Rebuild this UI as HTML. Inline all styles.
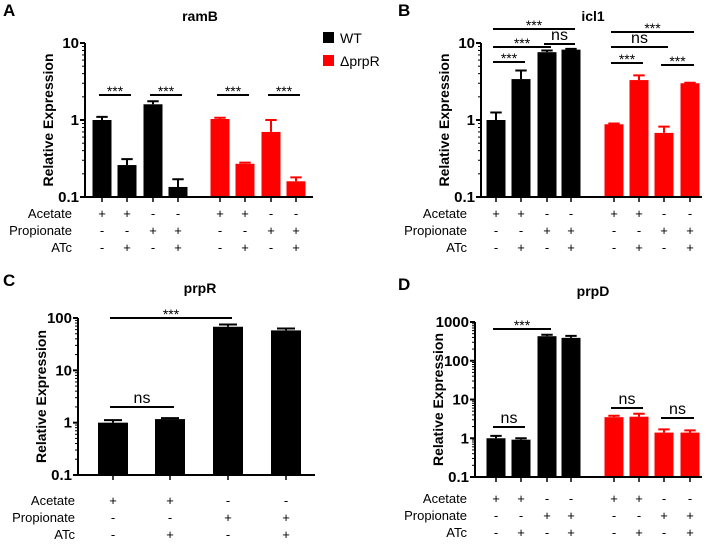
<!DOCTYPE html>
<html><head><meta charset="utf-8">
<style>
body{margin:0;background:#fff;width:711px;height:542px;overflow:hidden}
svg{font-family:"Liberation Sans",Arial,sans-serif}
</style></head>
<body>
<svg id="fig" width="711" height="542" viewBox="0 0 711 542"></svg>
<script>
// ---- data ----
const conditionsAcetate = ['+','+','-','-','+','+','-','-'];
const conditionsPropionate = ['-','-','+','+','-','-','+','+'];
const conditionsAtc = ['-','+','-','+','-','+','-','+'];
const ramBValues = [1.0,0.26,1.6,0.135,1.03,0.27,0.7,0.16];
const ramBErrors = [1.1,0.31,1.75,0.17,1.07,0.28,1.0,0.18];
const icl1Values = [1.0,3.4,7.6,8.2,0.88,3.3,0.68,3.0];
const icl1Errors = [1.25,4.4,8.0,8.4,0.9,3.8,0.82,3.05];
const prpRValues = [1.0,1.17,68,58];
const prpRErrors = [1.12,1.22,75,63];
const prpDValues = [1.0,0.92,430,390,3.5,3.6,1.4,1.4];
const prpDErrors = [1.15,1.0,470,440,3.8,4.3,1.7,1.6];
const ramBTicks = ['0.1','1','10'];
const icl1Ticks = ['0.1','1','10'];
const prpRTicks = ['0.1','1','10','100'];
const prpDTicks = ['0.1','1','10','100','1000'];
// significance: [from index, to index, label]
const ramBSig = [[0,1,'***'],[2,3,'***'],[4,5,'***'],[6,7,'***']];
const icl1Sig = [[0,3,'***'],[0,2,'***'],[2,3,'ns'],[0,1,'***'],[4,7,'***'],[4,6,'ns'],[4,5,'***'],[6,7,'***']];
const prpRSig = [[0,2,'***'],[0,1,'ns']];
const prpDSig = [[0,2,'***'],[0,1,'ns'],[4,5,'ns'],[6,7,'ns']];

const NS='http://www.w3.org/2000/svg';
const svg=document.getElementById('fig');
function mk(tag,attrs,parent,text){const e=document.createElementNS(NS,tag);for(const k in attrs)e.setAttribute(k,attrs[k]);if(text!==undefined)e.textContent=text;(parent||svg).appendChild(e);return e;}

function panel(cfg){
  const g=mk('g',{});
  
  
  const y0=cfg.yBottom, dec=(cfg.yBottom-cfg.yTop)/(cfg.ticks.length-1);
  const yScale=v=>y0-(Math.log10(v)+1)*dec;
  const xScale=i=>cfg.centers[i];
  let t=mk('text',{x:cfg.letterX,y:cfg.letterY,'font-size':17,'font-weight':'bold'},g,cfg.letter);
  
  
  t=mk('text',{x:cfg.titleX,y:cfg.titleY,'font-size':14,'font-weight':'bold','text-anchor':'middle'},g,cfg.title);
  
  
  t=mk('text',{x:0,y:0,'font-size':14,'font-weight':'bold','text-anchor':'middle',transform:`translate(${cfg.axisX-32},${(cfg.yTop+cfg.yBottom)/2}) rotate(-90)`},g,'Relative Expression');
  
  
  cfg.values.forEach((v,i)=>{
    const col=(cfg.red&&i>=4)?'#ff0000':'#000';
    const cx=xScale(i), w=cfg.barW;
    const yt=yScale(v);
    const b=mk('rect',{x:cx-w/2,y:yt,width:w,height:y0-yt,fill:col},g);
    
    
    const ye=yScale(cfg.errors[i]);
    const e=mk('path',{d:`M${cx},${yt} V${ye} M${cx-w*0.3},${ye} H${cx+w*0.3}`,stroke:col,'stroke-width':2,fill:'none'},g);
    
    
  });
  const ax=mk('path',{d:`M${cfg.axisX},${cfg.yTop} V${y0} H${cfg.axisEnd}`,stroke:'#000','stroke-width':2,fill:'none'},g);
  
  
  cfg.ticks.forEach((lab,k)=>{
    const y=y0-k*dec;
    mk('line',{x1:cfg.axisX-5,x2:cfg.axisX,y1:y,y2:y,stroke:'#000','stroke-width':2},g);
    const tl=mk('text',{x:cfg.axisX-6,y:y+5,'font-size':15,'font-weight':'bold','text-anchor':'end'},g,lab);
    
    
    if(k<cfg.ticks.length-1){for(let m=2;m<=9;m++){const ym=y-Math.log10(m)*dec;mk('line',{x1:cfg.axisX-3,x2:cfg.axisX,y1:ym,y2:ym,stroke:'#000','stroke-width':1},g);}}
  });
  cfg.values.forEach((v,i)=>{mk('line',{x1:xScale(i),x2:xScale(i),y1:y0,y2:y0+5,stroke:'#000','stroke-width':1.5},g);});
  const rows=[['Acetate',conditionsAcetate],['Propionate',conditionsPropionate],['ATc',conditionsAtc]];
  rows.forEach((r,ri)=>{
    const y=cfg.rowY+ri*cfg.rowGap;
    const rl=mk('text',{x:cfg.rowLabelX,y:y,'font-size':13,'text-anchor':'end'},g,r[0]);
    
    
    cfg.values.forEach((v,i)=>{
      const idx=cfg.condIdx?cfg.condIdx[i]:i;
      const s=mk('text',{x:xScale(i),y:y,'font-size':13,'text-anchor':'middle'},g,r[1][idx]);
      
      
    });
  });
  cfg.sig.forEach((s,k)=>{
    const y=cfg.sigY[k];
    const x1=xScale(s[0])-3, x2=xScale(s[1])+4;
    const l=mk('line',{x1:x1,x2:x2,y1:y,y2:y,stroke:'#000','stroke-width':2},g);
    
    
    const st=mk('text',{x:(x1+x2)/2,y:s[2]==='ns'?y-4:y+1,'font-size':s[2]==='ns'?16:14,'text-anchor':'middle'},g,s[2]);
    
    
  });
}

const c8a=[102,127,153,178,220,245,271,296];
const c8b=[496,521,547,571,614,639,664,690];
panel({name:'ramB',letter:'A',letterX:3,letterY:16,title:'ramB',titleX:200,titleY:21,axisX:85,axisEnd:313,yTop:43,yBottom:197,
  ticks:ramBTicks,values:ramBValues,errors:ramBErrors,centers:c8a,barW:19,red:true,sig:ramBSig,sigY:[95,95,95,95],
  rowLabelX:72,rowY:218,rowGap:17});
panel({name:'icl1',letter:'B',letterX:398,letterY:16,title:'icl1',titleX:593,titleY:21,axisX:481,axisEnd:702,yTop:43,yBottom:197,
  ticks:icl1Ticks,values:icl1Values,errors:icl1Errors,centers:c8b,barW:19,red:true,sig:icl1Sig,sigY:[29,47,44,62,32,47,63,65],
  rowLabelX:467,rowY:218,rowGap:17});
panel({name:'prpR',letter:'C',letterX:3,letterY:286,title:'prpR',titleX:200,titleY:293,axisX:78,axisEnd:315,yTop:318,yBottom:475,
  ticks:prpRTicks,values:prpRValues,errors:prpRErrors,centers:[113,170,228,286],condIdx:[0,1,2,3],barW:30,red:false,sig:prpRSig,sigY:[318,407],
  rowLabelX:75,rowY:505,rowGap:17});
panel({name:'prpD',letter:'D',letterX:398,letterY:290,title:'prpD',titleX:593,titleY:296,axisX:475,axisEnd:702,yTop:322,yBottom:477,
  ticks:prpDTicks,values:prpDValues,errors:prpDErrors,centers:c8b,barW:19,red:true,sig:prpDSig,sigY:[329,427,408,418],
  rowLabelX:467,rowY:503,rowGap:17});

const lg=mk('g',{});


mk('rect',{x:323,y:32,width:11,height:11,fill:'#000'},lg);
mk('text',{x:340,y:43,'font-size':14},lg,'WT');
mk('rect',{x:323,y:55,width:11,height:11,fill:'#ff0000'},lg);
mk('text',{x:340,y:66,'font-size':14},lg,'ΔprpR');
</script>
</body></html>
